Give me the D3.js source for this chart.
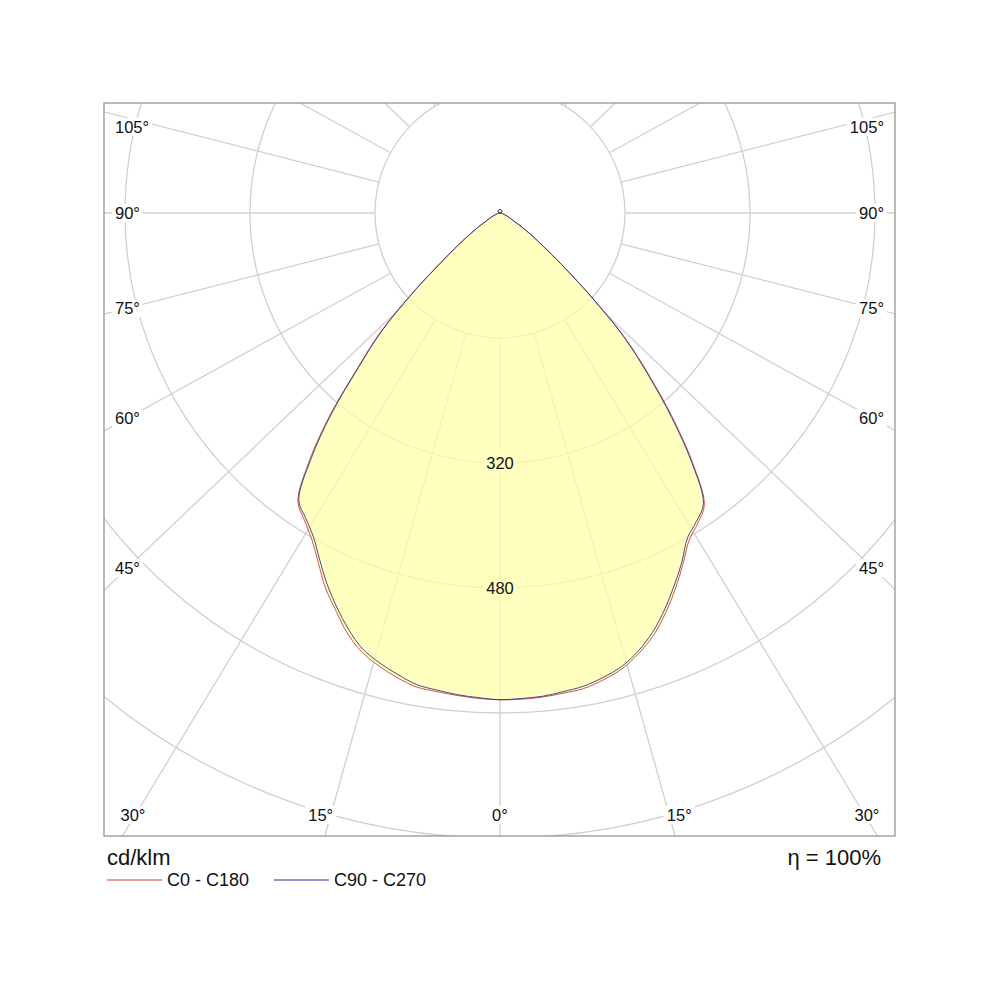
<!DOCTYPE html>
<html>
<head>
<meta charset="utf-8">
<script src="https://cdn.jsdelivr.net/npm/d3@7"></script>
<style>
	body { margin: 0; background: #fff; }
	svg text { font-family: "Liberation Sans", Arial, sans-serif; fill: #111; }
</style>
</head>
<body>
<svg id="chart" width="1000" height="1000"></svg>
<script>
// luminous intensity, cd/klm, per gamma angle (0 = straight down)
const gammas = [0, 2.5, 5, 7.5, 10, 12.5, 15, 17.5, 20, 22.5, 25, 27.5, 30, 32.5, 35, 37.5, 40, 42.5, 45, 47.5, 50, 52.5, 55, 57.5, 60,
	65, 70, 75, 80, 85, 90, 105, 120, 135, 150, 165, 180];
const c0   = [623, 623, 622, 620, 618, 612, 604, 591, 575, 554, 531, 507, 484, 471, 456, 407, 346, 284, 227, 159, 105, 70, 49, 32, 20,
	12, 6, 4, 3, 1, 0, 1.5, 2.5, 3.5, 4, 4.5, 4.5];
const c180 = [623, 622, 620, 618, 616, 609, 600, 589, 572, 550, 529, 504, 482, 466, 451, 402, 340, 271, 218, 154, 100, 68, 46, 31, 20,
	12, 6, 4, 3, 1, 0, 1.5, 2.5, 3.5, 4, 4.5, 4.5];
const c90  = [623, 622, 621, 618, 615, 609, 601, 588, 571, 550, 527, 504, 480, 468, 454, 404, 342, 280, 224, 157, 103, 69, 48, 32, 20,
	12, 6, 4, 3, 1, 0, 1.5, 2.5, 3.5, 4, 4.5, 4.5];
const c270 = [623, 621, 619, 616, 613, 605, 596, 585, 567, 546, 524, 500, 478, 463, 449, 398, 336, 268, 215, 152, 98, 67, 45, 31, 20,
	12, 6, 4, 3, 1, 0, 1.5, 2.5, 3.5, 4, 4.5, 4.5];

const rings = [160, 320, 480, 640, 800];
const ringLabels = [320, 480];
const spokeAngles = d3.range(0, 360, 15);
const sideLabels = [45, 60, 75, 90, 105];
const bottomLabels = [0, 15, 30];
const series = [
	{ name: 'C0 - C180', right: c0, left: c180, color: '#c83a3a' },
	{ name: 'C90 - C270', right: c90, left: c270, color: '#2c2c8c' }
];
const unit = 'cd/klm';
const efficiency = 'η = 100%';

const frame = { left: 104, top: 103, right: 895, bottom: 836 };
const cx = 500, cy = 213;
const aspect = 0.953; // spokes in the original are drawn slightly squashed

const svg = d3.select('#chart');
const rScale = d3.scaleLinear().domain([0, 160]).range([0, 125]);
const rad = function(deg) { return deg * Math.PI / 180; };

svg.append('defs').append('clipPath').attr('id', 'frameClip')
	.append('rect')
	.attr('x', frame.left).attr('y', frame.top)
	.attr('width', frame.right - frame.left).attr('height', frame.bottom - frame.top);

const plot = svg.append('g').attr('clip-path', 'url(#frameClip)');
const g = plot.append('g').attr('transform', 'translate(' + [cx, cy] + ')');

// grid circles
g.selectAll('circle.ring').data(rings).enter().append('circle')
	.attr('class', 'ring')
	.attr('r', function(d) { return rScale(d); })
	.style('fill', 'none')
	.style('stroke', '#d0d0d0')
	.style('stroke-width', 1.3);

// spokes, starting at the first ring
function spokeDir(a) {
	var dx = Math.sin(rad(a)), dy = aspect * Math.cos(rad(a));
	var len = Math.sqrt(dx * dx + dy * dy);
	return [dx / len, dy / len];
}
g.selectAll('line.spoke').data(spokeAngles).enter().append('line')
	.attr('class', 'spoke')
	.attr('x1', function(d) { return spokeDir(d)[0] * rScale(rings[0]); })
	.attr('y1', function(d) { return spokeDir(d)[1] * rScale(rings[0]); })
	.attr('x2', function(d) { return spokeDir(d)[0] * 1000; })
	.attr('y2', function(d) { return spokeDir(d)[1] * 1000; })
	.style('stroke', '#d0d0d0')
	.style('stroke-width', 1.3);

// closed outline: left half (C180 / C270) then right half (C0 / C90)
function outline(s) {
	var pts = [];
	for (var i = gammas.length - 1; i >= 0; i--) pts.push({ a: Math.PI + rad(gammas[i]), r: rScale(s.left[i]) });
	for (var j = 1; j < gammas.length - 1; j++) pts.push({ a: Math.PI - rad(gammas[j]), r: rScale(s.right[j]) });
	return pts;
}
const radial = d3.lineRadial()
	.angle(function(d) { return d.a; })
	.radius(function(d) { return d.r; })
	.curve(d3.curveCatmullRomClosed.alpha(0.5));

// fill
g.append('path')
	.datum(outline(series[0]))
	.attr('d', radial)
	.style('fill', '#ffffa8')
	.style('fill-opacity', 0.72)
	.style('stroke', 'none');

// ring value labels along 0°
const ringText = g.selectAll('g.ringlabel').data(ringLabels).enter().append('g')
	.attr('class', 'ringlabel')
	.attr('transform', function(d) { return 'translate(0,' + rScale(d) + ')'; });
ringText.append('rect')
	.attr('x', -16).attr('y', -9).attr('width', 32).attr('height', 18)
	.style('fill', '#ffffc0');
ringText.append('text')
	.attr('text-anchor', 'middle')
	.attr('dy', '0.36em')
	.style('font-size', '16.5px')
	.text(function(d) { return d; });

// curves
series.forEach(function(s) {
	g.append('path')
		.datum(outline(s))
		.attr('d', radial)
		.style('fill', 'none')
		.style('stroke', s.color)
		.style('stroke-width', 1)
		.style('stroke-opacity', 0.85);
});

// angle labels
var labels = [];
sideLabels.forEach(function(a) {
	var dir = spokeDir(a);
	var t = (cx - 127) / dir[0];
	var y = Math.max(cy + dir[1] * t, 127);
	labels.push({ text: a + '°', x: 115, y: y, anchor: 'start' });
	labels.push({ text: a + '°', x: 884, y: y, anchor: 'end' });
});
bottomLabels.forEach(function(a) {
	var dir = spokeDir(a);
	var off = dir[0] * (815 - cy) / dir[1];
	var shift = a > 0 ? 10 : 0;
	var xl = Math.max(cx - off - shift, 133);
	var xr = Math.min(cx + off + shift, 867);
	labels.push({ text: a + '°', x: xl, y: 815, anchor: 'middle' });
	if (a > 0) labels.push({ text: a + '°', x: xr, y: 815, anchor: 'middle' });
});

const lab = plot.selectAll('g.anglabel').data(labels).enter().append('g')
	.attr('class', 'anglabel');
lab.append('text')
	.attr('x', function(d) { return d.x; })
	.attr('y', function(d) { return d.y; })
	.attr('dy', '0.36em')
	.attr('text-anchor', function(d) { return d.anchor; })
	.style('font-size', '16.5px')
	.text(function(d) { return d.text; });
lab.each(function() {
	var bb = d3.select(this).select('text').node().getBBox();
	d3.select(this).insert('rect', 'text')
		.attr('x', bb.x - 3).attr('y', bb.y)
		.attr('width', bb.width + 6).attr('height', bb.height)
		.style('fill', '#fff');
});

// frame
svg.append('rect')
	.attr('x', frame.left).attr('y', frame.top)
	.attr('width', frame.right - frame.left).attr('height', frame.bottom - frame.top)
	.style('fill', 'none')
	.style('stroke', '#8c8c8c')
	.style('stroke-width', 1.2);

// footer
svg.append('text').attr('x', 107).attr('y', 865)
	.style('font-size', '22px').text(unit);
svg.append('text').attr('x', 881).attr('y', 865)
	.attr('text-anchor', 'end')
	.style('font-size', '22px').text(efficiency);

const legend = svg.selectAll('g.legend').data(series).enter().append('g')
	.attr('class', 'legend')
	.attr('transform', function(d, i) { return 'translate(' + [107 + i * 167, 880] + ')'; });
legend.append('line')
	.attr('x1', 0).attr('x2', 55)
	.style('stroke', function(d) { return d.color; })
	.style('stroke-width', 1);
legend.append('text')
	.attr('x', 60).attr('dy', '0.36em')
	.style('font-size', '18px')
	.text(function(d) { return d.name; });
</script>
</body>
</html>
